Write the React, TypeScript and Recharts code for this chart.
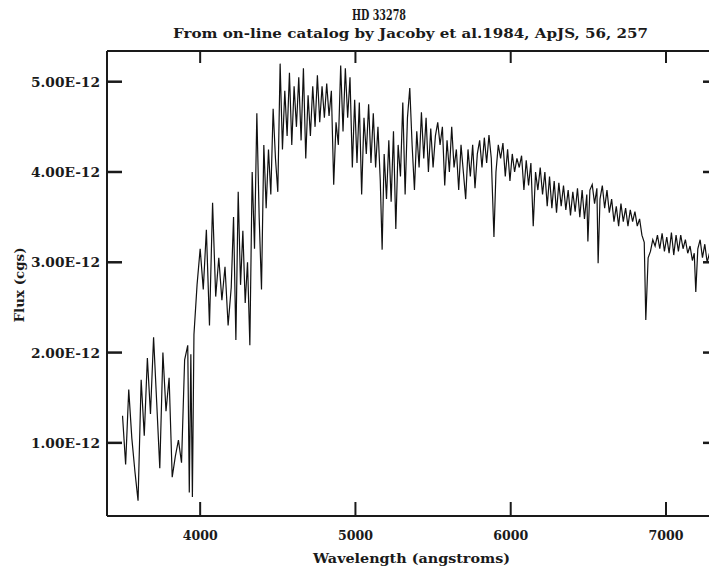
import { LineChart, Line, XAxis, YAxis } from 'recharts'

// wavelength grid (angstroms)
const wavelength = [
  3500, 3520, 3540, 3560, 3580, 3600, 3620, 3640, 3660, 3680, 3700, 3720, 3740, 3760, 3780, 3800,
  3820, 3840, 3860, 3880, 3900, 3920, 3930, 3940, 3950, 3960, 3980, 4000, 4020, 4040, 4060, 4080,
  4100, 4120, 4140, 4160, 4180, 4200, 4215, 4230, 4245, 4260, 4275, 4290, 4305, 4320, 4335, 4350,
  4365, 4380, 4395, 4410, 4425, 4440, 4455, 4470, 4485, 4500, 4515, 4530, 4545, 4560, 4575, 4590,
  4605, 4620, 4635, 4650, 4665, 4680, 4695, 4710, 4725, 4740, 4755, 4770, 4785, 4800, 4815, 4830,
  4845, 4860, 4875, 4890, 4905, 4920, 4935, 4950, 4965, 4980, 4995, 5010, 5025, 5040, 5055, 5070,
  5085, 5100, 5115, 5130, 5145, 5160, 5172, 5185, 5200, 5215, 5230, 5245, 5260, 5275, 5290, 5305,
  5320, 5335, 5350, 5365, 5380, 5395, 5410, 5425, 5440, 5455, 5470, 5485, 5500, 5515, 5530, 5545,
  5560, 5575, 5590, 5605, 5620, 5635, 5650, 5665, 5680, 5695, 5710, 5725, 5740, 5755, 5770, 5785,
  5800, 5815, 5830, 5845, 5860, 5875, 5892, 5905, 5920, 5935, 5950, 5965, 5980, 5995, 6010, 6025,
  6040, 6055, 6070, 6085, 6100, 6115, 6130, 6145, 6160, 6175, 6190, 6205, 6220, 6235, 6250, 6265,
  6280, 6295, 6310, 6325, 6340, 6355, 6370, 6385, 6400, 6415, 6430, 6445, 6460, 6475, 6490, 6497,
  6510, 6525, 6540, 6555, 6563, 6575, 6590, 6605, 6620, 6635, 6650, 6665, 6680, 6695, 6710, 6725,
  6740, 6755, 6770, 6785, 6800, 6815, 6830, 6845, 6860, 6870, 6885, 6900, 6915, 6930, 6945, 6960,
  6975, 6990, 7005, 7020, 7035, 7050, 7065, 7080, 7095, 7110, 7125, 7140, 7155, 7170, 7182, 7192,
  7205, 7220, 7235, 7250, 7265, 7280, 7295,
]

// flux in units of 1E-12 cgs
const flux = [
  1.30, 0.76, 1.59, 1.05, 0.68, 0.36, 1.70, 1.08, 1.94, 1.32, 2.17, 1.45, 0.72, 2.00, 1.35, 1.72,
  0.62, 0.85, 1.03, 0.78, 1.92, 2.08, 0.45, 1.98, 0.40, 2.20, 2.75, 3.15, 2.70, 3.36, 2.30, 3.66,
  2.62, 3.05, 2.58, 2.95, 2.30, 2.72, 3.50, 2.14, 3.78, 2.75, 3.35, 2.55, 3.00, 2.08, 4.00, 3.15,
  4.65, 3.50, 2.70, 4.30, 3.60, 4.25, 3.75, 4.70, 4.15, 3.78, 5.20, 4.25, 4.90, 4.40, 5.10, 4.30,
  4.95, 4.50, 5.05, 4.35, 5.15, 4.15, 4.85, 4.40, 4.95, 4.50, 5.07, 4.55, 4.95, 4.60, 4.98, 4.62,
  4.90, 3.86, 4.55, 4.30, 5.18, 4.45, 5.15, 4.60, 5.05, 4.05, 4.80, 4.10, 4.77, 3.75, 4.60, 4.20,
  4.75, 4.10, 4.65, 4.05, 4.50, 3.90, 3.14, 4.20, 3.70, 4.35, 3.67, 4.45, 3.37, 4.30, 3.95, 4.77,
  3.75, 4.60, 4.93, 4.30, 3.80, 4.45, 4.05, 4.66, 4.15, 4.60, 4.00, 4.48, 4.05, 4.40, 4.55, 4.30,
  4.50, 3.85, 4.35, 4.00, 4.50, 4.05, 4.25, 3.80, 4.30, 4.00, 3.70, 4.25, 3.95, 4.30, 3.82, 4.20,
  4.35, 4.05, 4.38, 4.10, 4.41, 4.15, 3.28, 4.00, 4.30, 4.15, 4.32, 3.95, 4.25, 3.90, 4.20, 4.00,
  4.15, 4.05, 4.18, 3.80, 4.13, 3.85, 4.10, 3.40, 4.00, 3.80, 4.05, 3.75, 4.00, 3.62, 3.95, 3.60,
  3.90, 3.55, 3.88, 3.62, 3.85, 3.58, 3.80, 3.52, 3.78, 3.56, 3.82, 3.50, 3.80, 3.48, 3.75, 3.23,
  3.80, 3.86, 3.65, 3.82, 2.99, 3.70, 3.85, 3.60, 3.80, 3.55, 3.70, 3.45, 3.62, 3.40, 3.65, 3.45,
  3.60, 3.40, 3.58, 3.45, 3.56, 3.40, 3.48, 3.30, 3.22, 2.36, 3.05, 3.12, 3.25, 3.18, 3.30, 3.15,
  3.32, 3.12, 3.28, 3.10, 3.33, 3.08, 3.30, 3.12, 3.30, 3.15, 3.25, 3.10, 3.18, 3.02, 3.10, 2.67,
  3.15, 3.25, 3.05, 3.20, 3.00, 3.10, 2.73,
]

const xTicks = [4000, 5000, 6000, 7000]
const yTicks = [1, 2, 3, 4, 5]

const data = wavelength.map((wl, i) => ({ wl, flux: flux[i] }))

const FONT = '"DejaVu Serif", "Liberation Serif", serif'
const INK = '#1a1a1a'
const X_DOMAIN = [3400, 7335]
const Y_DOMAIN = [0.19, 5.34]
const fmtY = (v: number) => `${v.toFixed(2)}E-12`

const textProps = { fill: INK, fontFamily: FONT, fontWeight: 700, lengthAdjust: 'spacingAndGlyphs' as const }

// ticks drawn inward from the frame, PGPLOT style
function LeftTick({ x, y, payload }: any) {
  return (
    <g>
      <line x1={x} y1={y} x2={x + 15} y2={y} stroke={INK} strokeWidth={2.5} />
      <text x={x - 7} y={y + 5} textAnchor="end" fontSize={13} textLength={69} {...textProps}>
        {fmtY(payload.value)}
      </text>
    </g>
  )
}

function BottomTick({ x, y, payload }: any) {
  return (
    <g>
      <line x1={x} y1={y} x2={x} y2={y - 14} stroke={INK} strokeWidth={2} />
      <text x={x} y={y + 24} textAnchor="middle" fontSize={13} textLength={35} {...textProps}>
        {payload.value}
      </text>
    </g>
  )
}

function TopTick({ x, y }: any) {
  return <line x1={x} y1={y} x2={x} y2={y + 12} stroke={INK} strokeWidth={2} />
}

function RightTick({ x, y }: any) {
  return <line x1={x} y1={y} x2={x - 15} y2={y} stroke={INK} strokeWidth={2.5} />
}

export default function App() {
  return (
    <div style={{ position: 'absolute', left: 0, top: 0, width: 709, height: 573, overflow: 'hidden', background: '#fff' }}>
      <LineChart width={719} height={573} data={data} margin={{ top: 50, right: 0, bottom: 0, left: 0 }}>
        <XAxis
          xAxisId="bottom"
          dataKey="wl"
          type="number"
          domain={X_DOMAIN}
          allowDataOverflow
          ticks={xTicks}
          height={57}
          tickSize={0}
          tickMargin={0}
          tick={<BottomTick />}
          tickLine={false}
          axisLine={{ stroke: INK, strokeWidth: 2 }}
        />
        <XAxis
          xAxisId="top"
          orientation="top"
          dataKey="wl"
          type="number"
          domain={X_DOMAIN}
          allowDataOverflow
          ticks={xTicks}
          height={1}
          tickSize={0}
          tickMargin={0}
          tick={<TopTick />}
          tickLine={false}
          axisLine={{ stroke: INK, strokeWidth: 2 }}
        />
        <YAxis
          yAxisId="left"
          type="number"
          domain={Y_DOMAIN}
          allowDataOverflow
          ticks={yTicks}
          width={107}
          tickSize={0}
          tickMargin={0}
          tick={<LeftTick />}
          tickLine={false}
          axisLine={{ stroke: INK, strokeWidth: 2 }}
        />
        <YAxis
          yAxisId="right"
          orientation="right"
          type="number"
          domain={Y_DOMAIN}
          allowDataOverflow
          ticks={yTicks}
          width={1}
          tickSize={0}
          tickMargin={0}
          tick={<RightTick />}
          tickLine={false}
          axisLine={{ stroke: INK, strokeWidth: 2 }}
        />
        <Line
          xAxisId="bottom"
          yAxisId="left"
          type="linear"
          dataKey="flux"
          stroke="#111"
          strokeWidth={1.2}
          dot={false}
          isAnimationActive={false}
        />
        <Line
          xAxisId="top"
          yAxisId="right"
          type="linear"
          dataKey="flux"
          stroke="none"
          dot={false}
          legendType="none"
          isAnimationActive={false}
        />
      </LineChart>
      <svg width={709} height={573} style={{ position: 'absolute', left: 0, top: 0, pointerEvents: 'none' }}>
        <text x={379} y={20} textAnchor="middle" fontSize={15.5} textLength={54} {...textProps}>
          HD 33278
        </text>
        <text x={410.5} y={38} textAnchor="middle" fontSize={13.5} textLength={475} {...textProps}>
          From on-line catalog by Jacoby et al.1984, ApJS, 56, 257
        </text>
        <text x={411.5} y={563} textAnchor="middle" fontSize={13.5} textLength={197} {...textProps}>
          Wavelength (angstroms)
        </text>
        <text transform="translate(24,285) rotate(-90)" textAnchor="middle" fontSize={13} textLength={75} {...textProps}>
          Flux (cgs)
        </text>
      </svg>
    </div>
  )
}
